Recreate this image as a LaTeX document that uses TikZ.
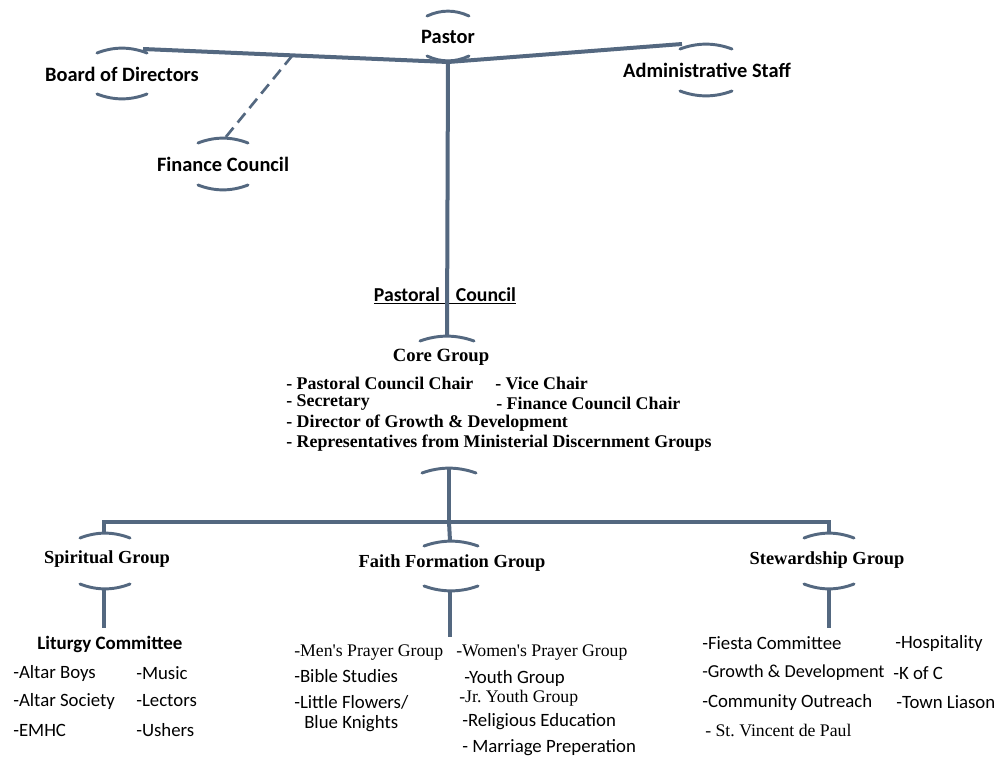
\documentclass[tikz,border=0pt]{standalone}
\usepackage{fontspec}
\setmainfont{Liberation Serif}[Ligatures=TeXOff]
\newfontfamily\calfont{Carlito}[Ligatures=TeXOff]
\usetikzlibrary{calc}
\definecolor{linec}{RGB}{84,104,128}
\frenchspacing
\tikzset{
  conn/.style={draw=linec, line width=3pt},
  thinconn/.style={draw=linec, line width=2.4pt},
  dashconn/.style={draw=linec, line width=2pt, dash pattern=on 9pt off 5pt},
  arcline/.style={draw=linec, line width=2.2pt, line cap=round},
  toplab/.style={font=\calfont\bfseries\fontsize{15.3}{18}\selectfont, inner sep=0pt},
  grplab/.style={font=\bfseries\fontsize{13.8}{16}\selectfont, inner sep=0pt},
  coreitem/.style={anchor=west, font=\bfseries\fontsize{13.4}{16}\selectfont, inner sep=0pt},
  item/.style={anchor=west, font=\calfont\fontsize{14.1}{17}\selectfont, inner sep=0pt},
  sitem/.style={anchor=west, font=\fontsize{13.3}{16}\selectfont, inner sep=0pt},
}
% top arc: center x, peak y, half width
\newcommand\toparcdraw[3]{\draw[arcline] (#1-#3,#2+5) .. controls (#1-#3/3,#2-1.5) and (#1+#3/3,#2-1.5) .. (#1+#3,#2+5);}
% bottom arc: center x, trough y, half width
\newcommand\botarcdraw[3]{\draw[arcline] (#1-#3,#2-5) .. controls (#1-#3/3,#2+1.5) and (#1+#3/3,#2+1.5) .. (#1+#3,#2-5);}
\begin{document}
\begin{tikzpicture}[x=0.75pt,y=-0.75pt]
\useasboundingbox (0,0) rectangle (997,758);
\fill[white] (0,0) rectangle (997,758);

% ---- top level labels
\node[toplab] (pastor) at (448,37) {Pastor};
\node[toplab] (board) at (122,74) {Board of Directors};
\node[toplab] (admin) at (707,70) {Administrative Staff};
\node[toplab] (finance) at (223,164) {Finance Council};

% arcs
\toparcdraw{448}{11}{21}\botarcdraw{448}{61}{21}
\toparcdraw{122}{48}{25}\botarcdraw{122}{99}{25}
\toparcdraw{706}{44}{26}\botarcdraw{706}{96}{26}
\toparcdraw{223}{138}{25}\botarcdraw{223}{190}{25}

\coordinate (pastorB) at (448,62);
\coordinate (boardT) at (143,49);
\coordinate (adminT) at (682,44);
\coordinate (finT) at (225,138);
\coordinate (dashS) at ($(boardT)!0.49!(pastorB)$);

\draw[conn] (pastorB) -- (boardT);
\draw[conn] (pastorB) -- (adminT);
\draw[dashconn] (dashS) -- (finT);

% ---- pastoral council
\node[font=\calfont\bfseries\fontsize{14.8}{17}\selectfont, inner sep=0pt] (pc) at (445,296) {\underline{Pastoral\hspace{12pt}Council}};
\coordinate (coreT) at (447,336);
\draw[conn] (pastorB) -- (447,62 |- coreT);
\toparcdraw{447}{336}{27}

\node[font=\bfseries\fontsize{14}{17}\selectfont, inner sep=0pt] (core) at (441,357) {Core Group};
\node[coreitem] (c1) at (286,383) {- Pastoral Council Chair};
\node[coreitem] (c2) at (495,383) {- Vice Chair};
\node[coreitem] (c3) at (286,403) {- Secretary};
\node[coreitem] (c4) at (496,403) {- Finance Council Chair};
\node[coreitem] (c5) at (286,423) {- Director of Growth \& Development};
\node[coreitem] (c6) at (286,443) {- Representatives from Ministerial Discernment Groups};

\toparcdraw{449}{468}{27}
\coordinate (coreB) at (449,468);
\coordinate (barM) at (449,522);
\draw[conn] (coreB) -- (barM);

% ---- horizontal bar
\coordinate (barL) at (104,522);
\coordinate (barR) at (829,522);
\coordinate (spT) at (104,533);
\coordinate (ffT) at (450,541);
\coordinate (stT) at (829,533);
\draw[conn] (spT) -- (barL) -- (barR) -- (stT);
\draw[conn] (barM) -- (ffT);

% ---- group labels
\node[grplab] (spiritual) at (107,559) {Spiritual Group};
\node[grplab] (faith) at (452,563) {Faith Formation Group};
\node[grplab] (steward) at (827,560) {Stewardship Group};

\toparcdraw{105}{533}{25}\botarcdraw{105}{589}{25}
\toparcdraw{451}{541}{27}\botarcdraw{451}{591}{27}
\toparcdraw{829}{533}{25}\botarcdraw{829}{589}{25}

\coordinate (spB) at (104,589);
\coordinate (ffB) at (450,591);
\coordinate (stB) at (829,589);
\coordinate (spE) at (104,628);
\coordinate (ffE) at (450,637);
\coordinate (stE) at (829,628);
\draw[thinconn] (spB) -- (spE);
\draw[thinconn] (ffB) -- (ffE);
\draw[thinconn] (stB) -- (stE);

% ---- spiritual items
\node[font=\calfont\bfseries\fontsize{14.2}{17}\selectfont, inner sep=0pt] (liturgy) at (110,644) {Liturgy Committee};
\node[item] (s1) at (13,673) {-Altar Boys};
\node[item] (s2) at (136,673) {-Music};
\node[item] (s3) at (13,701) {-Altar Society};
\node[item] (s4) at (136,701) {-Lectors};
\node[item] (s5) at (13,730) {-EMHC};
\node[item] (s6) at (136,730) {-Ushers};

% ---- faith formation items
\node[sitem] (f1) at (294,653) {-Men's Prayer Group};
\node[item] (f2) at (294,676) {-Bible Studies};
\node[item] (f3) at (294,702) {-Little Flowers/};
\node[item] (f4) at (304,724) {Blue Knights};
\node[sitem] (f5) at (456,653) {-Women's Prayer Group};
\node[item] (f6) at (464,678) {-Youth Group};
\node[sitem] (f7) at (459,698) {-Jr. Youth Group};
\node[item] (f8) at (462,722) {-Religious Education};
\node[item] (f9) at (462,748) {- Marriage Preperation};

% ---- stewardship items
\node[item] (t1) at (702,643) {-Fiesta Committee};
\node[item] (t2) at (895,643) {-Hospitality};
\node[item,font=\calfont\fontsize{13.7}{17}\selectfont] (t3) at (702,673) {-Growth \& Development};
\node[item] (t4) at (893,673) {-K of C};
\node[item] (t5) at (702,702) {-Community Outreach};
\node[item] (t6) at (896,702) {-Town Liason};
\node[sitem] (t7) at (705,730) {- St. Vincent de Paul};
\end{tikzpicture}
\end{document}
